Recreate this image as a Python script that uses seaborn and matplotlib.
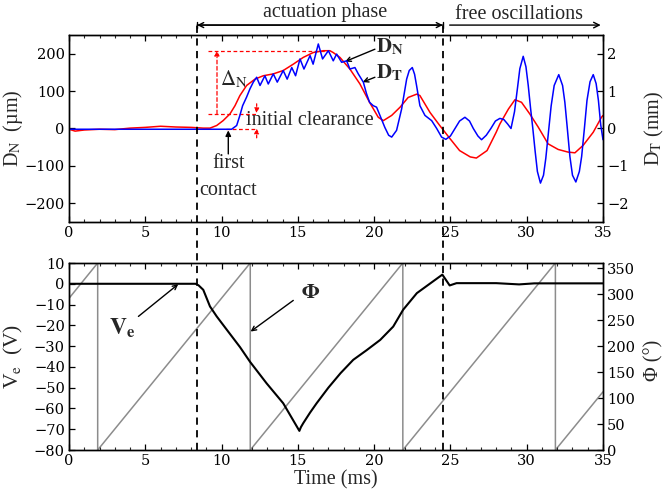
import matplotlib
matplotlib.use("Agg")
import matplotlib.pyplot as plt
import matplotlib.transforms as mtransforms
from matplotlib.lines import Line2D
from matplotlib.ticker import MultipleLocator
import seaborn as sns

# ── Data ─────────────────────────────────────────────────────────────────────
# normal displacement D_N (µm), red, left axis of the top panel
t_dn = [0, 0.4, 1.0, 2.0, 3.0, 4.0, 5.0, 6.0, 7.0, 8.0, 8.8, 9.24, 9.68, 10.1,
        10.55, 10.88, 11.2, 11.64, 12.19, 12.73, 13.39, 14.04, 14.7, 15.35, 16.0,
        16.67, 17.1, 17.32, 17.76, 18.41, 19.07, 19.7, 20.27, 20.6, 21.15, 21.7,
        22.23, 22.8, 23.0, 23.66, 24.3, 24.97, 25.6, 26.3, 26.7, 27.4, 28.0,
        28.24, 28.8, 29.23, 29.66, 30.2, 30.75, 31.4, 32.06, 32.7, 33.16, 33.7,
        34.36, 34.9, 35.0]
dn_um = [-2, -7, -4, -2, -3, 1, 3, 6, 4, 3, 1, 1, 8, 21,
         39, 61, 88, 115, 132, 141, 146, 155, 172, 190, 203,
         208, 208, 203, 190, 159, 119, 70, 30, 21, 35, 57,
         83, 92, 88, 43, 8, -27, -59, -76, -79, -59, -10,
         12, 52, 77, 70, 39, 4, -41, -56, -63, -65, -45,
         -10, 30, 35]

# tangential displacement D_T (mm), blue, right axis of the top panel
t_dt = [0, 5.0, 10.66, 10.99, 11.2, 11.38, 11.64, 11.86, 12.08, 12.3, 12.52,
        12.84, 13.06, 13.39, 13.65, 14.04, 14.3, 14.6, 14.85, 15.14, 15.4, 15.8,
        16.0, 16.34, 16.62, 17.0, 17.32, 17.54, 17.87, 18.2, 18.41, 18.74, 18.96,
        19.29, 19.5, 19.7, 19.94, 20.16, 20.38, 20.7, 20.95, 21.15, 21.47, 21.8,
        22.13, 22.3, 22.5, 22.65, 22.78, 23.0, 23.33, 23.77, 24.1, 24.42, 24.7,
        25.0, 25.3, 25.6, 25.95, 26.25, 26.5, 26.8, 27.04, 27.35, 27.65, 27.95,
        28.24, 28.5, 28.75, 28.97, 29.2, 29.4, 29.55, 29.77, 29.95, 30.1, 30.25,
        30.4, 30.55, 30.7, 30.9, 31.1, 31.25, 31.45, 31.6, 31.8, 32.1, 32.35,
        32.5, 32.65, 32.83, 33.0, 33.22, 33.45, 33.6, 33.78, 33.95, 34.15, 34.36,
        34.55, 34.7, 34.85, 35.0]
dt_mm = [-0.02, -0.02, -0.02, 0.08, 0.35, 0.61, 0.84, 1.06, 1.24, 1.37, 1.15,
         1.41, 1.19, 1.46, 1.24, 1.55, 1.32, 1.63, 1.41, 1.86, 1.59, 1.95,
         1.72, 2.26, 1.86, 2.08, 1.81, 1.99, 1.77, 1.81, 1.59, 1.63, 1.46,
         1.24, 0.93, 0.70, 0.61, 0.57, 0.35, 0.03, -0.18, -0.23, -0.05, 0.52,
         1.32, 1.55, 1.63, 1.45, 1.15, 0.61, 0.35, 0.21, 0.0, -0.23, -0.29,
         -0.20, 0.0, 0.20, 0.30, 0.20, 0.0, -0.20, -0.30, -0.18, 0.0, 0.20,
         0.27, 0.24, 0.12, 0.0, 0.45, 1.10, 1.60, 1.93, 1.65, 1.15, 0.55,
         0.0, -0.60, -1.15, -1.46, -1.25, -0.80, 0.0, 0.60, 1.15, 1.44, 1.15,
         0.70, 0.05, -0.75, -1.25, -1.43, -1.15, -0.75, 0.0, 0.75, 1.25, 1.44,
         1.20, 0.75, 0.10, -0.30]

# excitation voltage V_e (V), black, left axis of the bottom panel
t_ve = [0, 8.3, 8.5, 8.8, 9.24, 9.68, 10.33, 11.21, 11.86, 12.95, 14.04, 15.1,
        15.2, 15.36, 15.8, 16.23, 17.0, 17.8, 18.63, 19.5, 20.4, 21.25, 21.9,
        22.8, 23.85, 24.47, 24.95, 25.4, 28.0, 29.5, 30.5, 35.0]
ve_volt = [0, 0, -0.8, -2.9, -10.9, -15.7, -22, -30.5, -37.5, -47.9, -57.5, -70.8,
           -69, -67, -62, -57.5, -50, -43, -36.6, -32, -27, -20.6, -12.5,
           -4.5, 1.1, 4.4, -0.8, 0.3, 0.3, -0.3, 0.2, 0.2]

# phase Φ (deg), grey sawtooth, right axis of the bottom panel
t_phi = [0, 1.88, 1.88, 11.88, 11.88, 21.88, 21.88, 31.88, 31.88, 35.0]
phi_deg = [292, 360, 0, 360, 0, 360, 0, 360, 0, 112]

T_CONTACT = 8.4    # first contact, start of actuation (ms)
T_RELEASE = 24.5   # end of actuation (ms)

RED, BLUE, GREY = "#ff0000", "#0000ff", "#8c8c8c"

# ── Style ────────────────────────────────────────────────────────────────────
sns.set_theme(style="ticks")
plt.rcParams["font.family"] = ["Liberation Serif", "DejaVu Serif"]
plt.rcParams["mathtext.fontset"] = "stix"
plt.rcParams["axes.linewidth"] = 1.0
plt.rcParams["axes.edgecolor"] = "black"

fig = plt.figure(figsize=(6.65, 4.93), dpi=100)
ax_top = fig.add_axes([0.10376, 0.54970, 0.80301, 0.37931])
ax_bot = fig.add_axes([0.10376, 0.08722, 0.80301, 0.37931])
ax_top_r = ax_top.twinx()
ax_bot_r = ax_bot.twinx()
ax_bot.set_zorder(ax_bot_r.get_zorder() + 1)
ax_bot.patch.set_visible(False)

# ── Curves ───────────────────────────────────────────────────────────────────
sns.lineplot(x=t_dn, y=dn_um, ax=ax_top, color=RED, lw=1.1,
             estimator=None, sort=False, legend=False)
sns.lineplot(x=t_dt, y=dt_mm, ax=ax_top_r, color=BLUE, lw=1.1,
             estimator=None, sort=False, legend=False)
sns.lineplot(x=t_phi, y=phi_deg, ax=ax_bot_r, color=GREY, lw=1.1,
             estimator=None, sort=False, legend=False)
sns.lineplot(x=t_ve, y=ve_volt, ax=ax_bot, color="black", lw=1.5,
             estimator=None, sort=False, legend=False)

# ── Axes limits / ticks ──────────────────────────────────────────────────────
for ax in (ax_top, ax_bot):
    ax.set_xlim(0, 35)
    ax.xaxis.set_major_locator(MultipleLocator(5))
    ax.xaxis.set_minor_locator(MultipleLocator(1))
ax_top.set_ylim(-250, 250)
ax_top.yaxis.set_major_locator(MultipleLocator(100))
ax_top_r.set_ylim(-2.5, 2.5)
ax_top_r.yaxis.set_major_locator(MultipleLocator(1))
ax_bot.set_ylim(-80, 10)
ax_bot.yaxis.set_major_locator(MultipleLocator(10))
ax_bot_r.set_ylim(0, 360)
ax_bot_r.yaxis.set_major_locator(MultipleLocator(50))

for ax in (ax_top, ax_bot):
    ax.tick_params(axis="x", which="both", direction="in", top=True, bottom=True)
    ax.tick_params(axis="y", which="both", direction="in", left=True, right=False)
for ax in (ax_top_r, ax_bot_r):
    ax.tick_params(axis="y", which="both", direction="in", right=True, left=False)
for ax in (ax_top, ax_bot, ax_top_r, ax_bot_r):
    ax.tick_params(which="major", length=4, width=0.9, labelsize=10.5,
                   labelfontfamily="DejaVu Serif", colors="black", pad=3)
    ax.tick_params(which="minor", length=2.5, width=0.8)

# ── Labels ───────────────────────────────────────────────────────────────────
ax_top.set_ylabel("D$_{\\rm N}$  (µm)", fontsize=14.5)
ax_top_r.set_ylabel("D$_{\\rm T}$ (mm)", fontsize=14.5)
ax_bot.set_ylabel("V$_{\\rm e}$  (V)", fontsize=15.5)
ax_bot_r.set_ylabel("Φ (°)", fontsize=14.5)
ax_bot.set_xlabel("Time (ms)", fontsize=14.5, labelpad=1.5)
ax_top.yaxis.set_label_coords(-0.083, 0.5)
ax_bot.yaxis.set_label_coords(-0.083, 0.5)
ax_top_r.yaxis.set_label_coords(1.075, 0.5)
ax_bot_r.yaxis.set_label_coords(1.077, 0.48)

# ── Phase boundaries: dashed lines through both panels ──────────────────────
vtrans = mtransforms.blended_transform_factory(ax_bot.transData, fig.transFigure)
for tv in (T_CONTACT, T_RELEASE):
    fig.add_artist(Line2D([tv, tv], [0.0872, 0.949], transform=vtrans,
                          color="black", lw=1.3, ls=(0, (4, 3))))

arrow_kw = dict(xycoords=("data", "axes fraction"), textcoords=("data", "axes fraction"),
                annotation_clip=False)
ax_top.annotate("", xy=(T_RELEASE, 1.053), xytext=(T_CONTACT, 1.053),
                arrowprops=dict(arrowstyle="<->", lw=1.0, color="black",
                                shrinkA=0, shrinkB=0, mutation_scale=9), **arrow_kw)
ax_top.annotate("", xy=(T_RELEASE, 1.053), xytext=(T_CONTACT, 1.053),
                arrowprops=dict(arrowstyle="|-|, widthA=0.25, widthB=0.25", lw=1.0,
                                color="black", shrinkA=0, shrinkB=0,
                                mutation_scale=9), **arrow_kw)
ax_top.annotate("", xy=(34.85, 1.053), xytext=(24.95, 1.053),
                arrowprops=dict(arrowstyle="->", lw=1.0, color="black",
                                shrinkA=0, shrinkB=0, mutation_scale=10), **arrow_kw)
ax_top.text(16.8, 1.119, "actuation phase", transform=ax_top.get_xaxis_transform(),
            ha="center", va="center", fontsize=14.5)
ax_top.text(29.5, 1.107, "free oscillations", transform=ax_top.get_xaxis_transform(),
            ha="center", va="center", fontsize=14.5)

# ── Top panel annotations ────────────────────────────────────────────────────
red_dash = dict(color=RED, lw=0.9, ls=(0, (3, 2)))
ax_top.plot([9.1, 17.0], [208, 208], **red_dash)
ax_top.plot([9.1, 12.35], [39, 39], **red_dash)
ax_top.plot([10.3, 12.35], [-1, -1], **red_dash)
ax_top.annotate("", xy=(9.7, 208), xytext=(9.7, 39),
                arrowprops=dict(arrowstyle="-|>", color=RED, lw=0.9, ls=(0, (3, 2)),
                                shrinkA=0, shrinkB=0, mutation_scale=7))
ax_top.annotate("", xy=(12.3, 41), xytext=(12.3, 66),
                arrowprops=dict(arrowstyle="-|>", color=RED, lw=0.9, ls=(0, (2, 1.5)),
                                shrinkA=0, shrinkB=0, mutation_scale=7))
ax_top.annotate("", xy=(12.3, 0), xytext=(12.3, -25),
                arrowprops=dict(arrowstyle="-|>", color=RED, lw=0.9, ls=(0, (2, 1.5)),
                                shrinkA=0, shrinkB=0, mutation_scale=7))
ax_top.text(9.9, 132, r"$\Delta_{\rm N}$", fontsize=15, ha="left", va="center")
ax_top.text(15.8, 21, "initial clearance", fontsize=14.5, ha="center", va="center")
ax_top.text(10.44, -94, "first", fontsize=14.5, ha="center", va="center")
ax_top.text(10.44, -165, "contact", fontsize=14.5, ha="center", va="center")
ax_top.annotate("", xy=(10.44, -5), xytext=(10.44, -68),
                arrowprops=dict(arrowstyle="-|>", color="black", lw=1.0,
                                shrinkA=0, shrinkB=0, mutation_scale=8))

ax_top.text(20.15, 219, r"$\mathbf{D}_{\mathbf{N}}$", fontsize=15, ha="left", va="center")
ax_top.text(20.15, 149, r"$\mathbf{D}_{\mathbf{T}}$", fontsize=15, ha="left", va="center")
ax_top.annotate("", xy=(18.1, 179), xytext=(20.05, 212),
                arrowprops=dict(arrowstyle="->", color="black", lw=1.0,
                                shrinkA=0, shrinkB=0, mutation_scale=8))
ax_top.annotate("", xy=(19.25, 124), xytext=(20.05, 137),
                arrowprops=dict(arrowstyle="->", color="black", lw=1.0,
                                shrinkA=0, shrinkB=0, mutation_scale=8))

# ── Bottom panel annotations ─────────────────────────────────────────────────
ax_bot.text(2.65, -21.5, r"$\mathbf{V_e}$", fontsize=17, ha="left", va="center")
ax_bot.annotate("", xy=(7.16, -0.2), xytext=(4.55, -15.7),
                arrowprops=dict(arrowstyle="->", color="black", lw=1.0,
                                shrinkA=0, shrinkB=0, mutation_scale=8))
ax_bot.text(15.8, -4.6, r"$\mathbf{\Phi}$", fontsize=15, ha="center", va="center")
ax_bot.annotate("", xy=(11.9, -23), xytext=(14.7, -8),
                arrowprops=dict(arrowstyle="->", color="black", lw=1.0,
                                shrinkA=0, shrinkB=0, mutation_scale=8))

fig.savefig("out.png", dpi=100, facecolor="white")
